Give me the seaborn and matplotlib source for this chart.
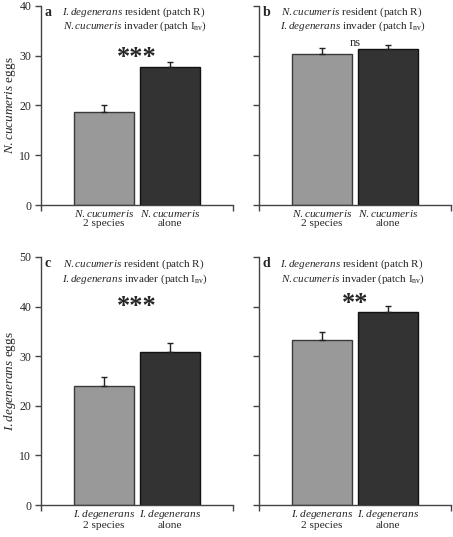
import numpy as np
import pandas as pd
import matplotlib
matplotlib.use("Agg")
import matplotlib.pyplot as plt
import seaborn as sns

# data (means and upper SE)
treatments = ["2 species", "alone"]
a_means = [18.6, 27.7]
a_err = [1.6, 1.1]
b_means = [30.3, 31.3]
b_err = [1.3, 0.8]
c_means = [24.0, 30.8]
c_err = [1.9, 1.8]
d_means = [33.2, 38.9]
d_err = [1.6, 1.2]

nc = "N. cucumeris"
idg = "I. degenerans"
signif = ["***", "ns", "***", "**"]

sns.set_style("ticks")
plt.rcParams["font.family"] = ["Liberation Serif", "DejaVu Serif"]
plt.rcParams["mathtext.fontset"] = "custom"
plt.rcParams["mathtext.rm"] = "Liberation Serif"
plt.rcParams["mathtext.it"] = "Liberation Serif:italic"
plt.rcParams["mathtext.bf"] = "Liberation Serif:bold"


def it(s):
    # mathtext already puts a small space after the period
    return r"$\mathit{" + s.replace(". ", ".") + "}$"


fig = plt.figure(figsize=(4.53, 5.37), dpi=100)
W, H = 453, 537
boxes = [(41, 6, 233, 205), (259, 6, 451, 205), (41, 257, 233, 505), (259, 257, 451, 505)]
axes = [fig.add_axes([l / W, 1 - b / H, (r - l) / W, (b - t) / H]) for l, t, r, b in boxes]

panels = [
    ("a", a_means, a_err, nc, idg, nc, 40, signif[0], 29.7),
    ("b", b_means, b_err, nc, nc, idg, 40, signif[1], 32.6),
    ("c", c_means, c_err, idg, nc, idg, 50, signif[2], 40.1),
    ("d", d_means, d_err, idg, idg, nc, 50, signif[3], 40.6),
]

edge = "#444444"
for i, (ax, (letter, means, err, sp, resident, invader, ymax, sig, sy)) in enumerate(zip(axes, panels)):
    df = pd.DataFrame({"treatment": treatments, "eggs": means})
    sns.barplot(data=df, x="treatment", y="eggs", hue="treatment", order=treatments,
                palette=["#999999", "#333333"], width=0.9, errorbar=None,
                legend=False, ax=ax, saturation=1)
    for p, ec in zip(ax.patches, ["#3a3a3a", "#111111"]):
        p.set_edgecolor(ec)
        p.set_linewidth(1.0)
    ax.errorbar([0, 1], means, yerr=[[0, 0], err], fmt="none", ecolor="#222222",
                elinewidth=1.0, capsize=2.5, capthick=1.0, zorder=5)

    ax.set_xlim(-0.955, 1.955)
    ax.set_ylim(0, ymax)
    ax.set_yticks(np.arange(0, ymax + 1, 10))
    ax.set_xticks([0, 1])
    ax.set_xticklabels([it(sp) + "\n" + t for t in treatments], fontsize=8.2, linespacing=1.0)
    ax.set_xticks([-0.955, 1.955], minor=True)
    ax.tick_params(axis="x", which="major", length=0, pad=2.5)
    ax.tick_params(axis="x", which="minor", length=4.5, width=1.0, color=edge)
    ax.tick_params(axis="y", length=4.5, width=1.0, color=edge, labelsize=8.5, pad=2.5)
    ax.set_xlabel("")
    for s in ["left", "bottom"]:
        ax.spines[s].set_color(edge)
        ax.spines[s].set_linewidth(1.0)
    sns.despine(ax=ax)

    if i % 2 == 0:
        ax.set_ylabel(it(sp) + " eggs", fontsize=9.5)
        ax.yaxis.set_label_coords(-0.118, 0.5)
    else:
        ax.set_ylabel("")
        ax.set_yticklabels([])

    y1 = ymax - 1.3 if ymax == 40 else ymax - 1.4
    ax.text(0.02, y1, letter, transform=ax.get_yaxis_transform(), fontsize=10,
            fontweight="bold", ha="left", va="center")
    ax.text(0.485, y1, it(resident) + " resident (patch R)",
            transform=ax.get_yaxis_transform(), fontsize=8, ha="center", va="center")
    ax.text(0.49, y1 - 2.8 if ymax == 40 else y1 - 3.0,
            it(invader) + r" invader (patch I$_{\mathrm{nv}}$)",
            transform=ax.get_yaxis_transform(), fontsize=8, ha="center", va="center")
    if sig == "ns":
        ax.text(0.5, sy, sig, fontsize=9, ha="center", va="center")
    else:
        ax.text(0.5, sy, sig, fontsize=19, fontweight="bold", ha="center", va="center")

fig.savefig("out.png", dpi=100)
